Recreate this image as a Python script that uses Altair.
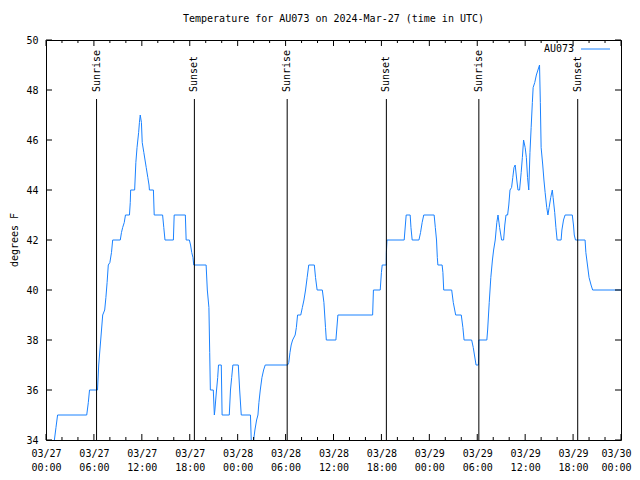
import altair as alt
import pandas as pd

# ---------------- data ----------------
title_text = "Temperature for AU073 on 2024-Mar-27 (time in UTC)"
y_title = "degrees F"
series_name = "AU073"

# hours since 2024-03-27 00:00 UTC
hours = [1.05, 1.25, 1.45, 5.1, 5.3, 5.45, 6.45, 6.6, 6.8, 7.05, 7.1, 7.35, 7.5, 7.65, 7.8,
         8.0, 8.2, 8.35, 9.3, 9.45, 9.6, 9.8, 9.95, 10.45, 10.55, 10.6, 11.1, 11.25, 11.4,
         11.5, 11.6, 11.7, 11.8, 11.95, 12.05, 12.25, 12.4, 12.55, 12.75, 12.9, 12.95, 13.45,
         13.55, 14.6, 14.75, 14.9, 15.95, 16.05, 17.45, 17.55, 17.95, 18.1, 18.25, 18.4, 18.5,
         20.05, 20.2, 20.4, 20.5, 20.58, 20.95, 21.08, 21.15, 21.3, 21.5, 21.6, 21.95, 22.05,
         22.95, 23.1, 23.25, 23.4, 24.08, 24.25, 24.45, 25.6, 25.7, 25.8, 25.95, 26.0, 26.16,
         26.37, 26.54, 26.66, 26.83, 27.04, 27.25, 27.45, 30.25, 30.4, 30.55, 30.7, 30.88,
         31.2, 31.35, 31.5, 31.9, 32.1, 32.3, 32.5, 32.7, 32.9, 33.6, 33.75, 33.95, 34.6,
         34.8, 35.0, 35.1, 36.3, 36.55, 40.9, 41.0, 41.85, 42.0, 42.1, 42.6, 42.62, 42.7,
         44.85, 45.1, 45.6, 45.7, 45.85, 46.7, 46.9, 47.1, 47.3, 48.6, 48.75, 48.9, 49.0,
         49.07, 49.6, 49.7, 49.8, 50.8, 51.0, 51.3, 52.0, 52.2, 52.35, 53.3, 53.5, 53.75,
         53.85, 54.15, 54.2, 55.2, 55.3, 55.5, 55.7, 55.9, 56.05, 56.25, 56.45, 56.6, 56.8,
         56.95, 57.05, 57.3, 57.45, 57.6, 57.8, 57.95, 58.1, 58.3, 58.45, 58.6, 58.75, 58.95,
         59.1, 59.3, 59.5, 59.65, 59.8, 60.0, 60.15, 60.3, 60.45, 60.6, 60.75, 60.9, 61.0,
         61.2, 61.4, 61.6, 61.8, 61.9, 62.0, 62.2, 62.35, 62.5, 62.7, 62.85, 63.0, 63.2,
         63.4, 63.5, 63.7, 63.85, 64.0, 64.5, 64.6, 64.8, 65.0, 65.9, 66.05, 66.15, 66.3,
         67.5, 67.6, 67.8, 68.0, 68.25, 68.45, 72.0]
temps = [34, 34.5, 35, 35, 35.5, 36, 36, 37, 37.8, 38.8, 39, 39.2, 39.7, 40.3, 41,
         41.1, 41.5, 42, 42, 42.3, 42.5, 42.7, 43, 43, 43.5, 44, 44, 45.1, 45.7,
         46, 46.3, 46.7, 47, 46.7, 45.9, 45.5, 45.2, 44.9, 44.5, 44.2, 44, 44,
         43, 43, 42.5, 42, 42, 43, 43, 42, 42, 41.8, 41.5, 41.3, 41,
         41, 40, 39.3, 37.5, 36, 36, 35, 35.2, 35.8, 36.5, 37, 37, 35,
         35, 36, 36.5, 37, 37, 36, 35, 35, 34, 33.5, 33.5, 34, 34.4,
         34.8, 35, 35.5, 36, 36.5, 36.8, 37, 37, 37.1, 37.5, 37.8, 38,
         38.2, 38.5, 39, 39, 39.3, 39.6, 40, 40.5, 41, 41, 40.5, 40, 40,
         39.5, 38.5, 38, 38, 39, 39, 40, 40, 40.7, 41, 41, 41.5, 42,
         42, 43, 43, 42.5, 42, 42, 42.3, 42.7, 43, 43, 42.5, 42, 41.3,
         41, 41, 40.7, 40, 40, 39.5, 39, 39, 38.5, 38, 38, 37.7, 37.2,
         37, 37, 38, 38, 38.4, 39.5, 40.5, 41.2, 41.6, 42, 42.7, 43, 42.5,
         42.2, 42, 42, 42.6, 43, 43, 43.4, 44, 44.1, 44.5, 44.9, 45, 44.4,
         44, 44, 44.7, 45.3, 46, 45.7, 45.3, 44.5, 44, 45.5, 46.5, 47.5, 48.1,
         48.3, 48.6, 48.8, 49, 47.5, 45.7, 45, 44.4, 43.9, 43.3, 43, 43.3, 43.7,
         44, 43.7, 43.1, 42.5, 42, 42, 42.4, 42.8, 43, 43, 42.6, 42.2, 42,
         42, 41.5, 41, 40.5, 40.2, 40, 40]

event_hours = [6.33, 18.58, 30.2, 42.62, 54.2, 66.58]
event_labels = ["Sunrise", "Sunset", "Sunrise", "Sunset", "Sunrise", "Sunset"]

x_major = list(range(0, 73, 6))
x_minor = [h for h in range(0, 73, 2) if h % 6 != 0]
y_ticks = list(range(34, 51, 2))

# ---------------- styling ----------------
FONT = "DejaVu Sans Mono"
FS = 10
BLUE = "#1a82ff"
W, H = 575, 400

df = pd.DataFrame({"h": hours, "t": temps})
ev = pd.DataFrame({"h": event_hours, "label": event_labels})
xmaj = pd.DataFrame({"h": x_major})
xmin = pd.DataFrame({"h": x_minor})
yt = pd.DataFrame({"t": y_ticks})

label_expr = ("['03/' + (27 + floor(datum.value / 24)), "
              "((datum.value % 24) < 10 ? '0' : '') + (datum.value % 24) + ':00']")

x_enc = alt.X("h:Q",
              scale=alt.Scale(domain=[0, 72], nice=False, zero=False),
              axis=alt.Axis(values=x_major, labelExpr=label_expr, title=None, grid=False,
                            ticks=False, tickSize=0, domain=False, labelFlush=False,
                            labelOverlap=False, labelPadding=8, labelBaseline="top",
                            labelOffset={"condition": {"test": "datum.value >= 72", "value": -5},
                                         "value": 0},
                            labelLineHeight=14, labelFont=FONT, labelFontSize=FS,
                            labelColor="black"))
y_enc = alt.Y("t:Q",
              scale=alt.Scale(domain=[34, 50], nice=False, zero=False),
              axis=alt.Axis(values=y_ticks, title=None, grid=False, ticks=False, tickSize=0,
                            domain=False, labelFlush=False, labelPadding=8,
                            labelFont=FONT, labelFontSize=FS, labelColor="black"))

line = alt.Chart(df).mark_line(color=BLUE, strokeWidth=1, clip=True).encode(x=x_enc, y=y_enc)

ev_rules = alt.Chart(ev).mark_rule(color="black", strokeWidth=1).encode(
    x="h:Q", y=alt.value(59), y2=alt.value(H))
ev_text = alt.Chart(ev).mark_text(angle=270, align="left", baseline="middle",
                                  font=FONT, fontSize=FS, color="black").encode(
    x="h:Q", y=alt.value(52), text="label:N")

tick_xmaj_b = alt.Chart(xmaj).mark_rule(color="black").encode(
    x="h:Q", y=alt.value(H), y2=alt.value(H - 6))
tick_xmaj_t = alt.Chart(xmaj).mark_rule(color="black").encode(
    x="h:Q", y=alt.value(0), y2=alt.value(6))
tick_xmin_b = alt.Chart(xmin).mark_rule(color="black").encode(
    x="h:Q", y=alt.value(H), y2=alt.value(H - 3))
tick_xmin_t = alt.Chart(xmin).mark_rule(color="black").encode(
    x="h:Q", y=alt.value(0), y2=alt.value(3))
tick_y_l = alt.Chart(yt).mark_rule(color="black").encode(
    y="t:Q", x=alt.value(0), x2=alt.value(6))
tick_y_r = alt.Chart(yt).mark_rule(color="black").encode(
    y="t:Q", x=alt.value(W), x2=alt.value(W - 6))

title = alt.Chart(pd.DataFrame({"s": [title_text]})).mark_text(
    align="center", baseline="middle", font=FONT, fontSize=FS, color="black").encode(
    text="s:N", x=alt.value(W / 2), y=alt.value(-21))
ytitle = alt.Chart(pd.DataFrame({"s": [y_title]})).mark_text(
    angle=270, align="center", baseline="middle", font=FONT, fontSize=FS, color="black").encode(
    text="s:N", x=alt.value(-31), y=alt.value(200))

leg_text = alt.Chart(pd.DataFrame({"s": [series_name]})).mark_text(
    align="right", baseline="middle", font=FONT, fontSize=FS, color="black").encode(
    text="s:N", x=alt.value(528), y=alt.value(9))
leg_line = alt.Chart(pd.DataFrame({"s": [series_name]})).mark_rule(
    color=BLUE, strokeWidth=1).encode(x=alt.value(535), x2=alt.value(564), y=alt.value(9))

chart = alt.layer(
    line, ev_rules, ev_text, tick_xmaj_b, tick_xmaj_t, tick_xmin_b, tick_xmin_t,
    tick_y_l, tick_y_r, title, ytitle, leg_text, leg_line
).properties(
    width=W, height=H,
    padding={"left": 38, "top": 32, "right": 11, "bottom": 32},
    autosize=alt.AutoSizeParams(type="none"),
    background="white",
).configure_view(stroke="black", strokeWidth=1)

chart.save("out.html", embed_options={"renderer": "svg", "actions": False})
